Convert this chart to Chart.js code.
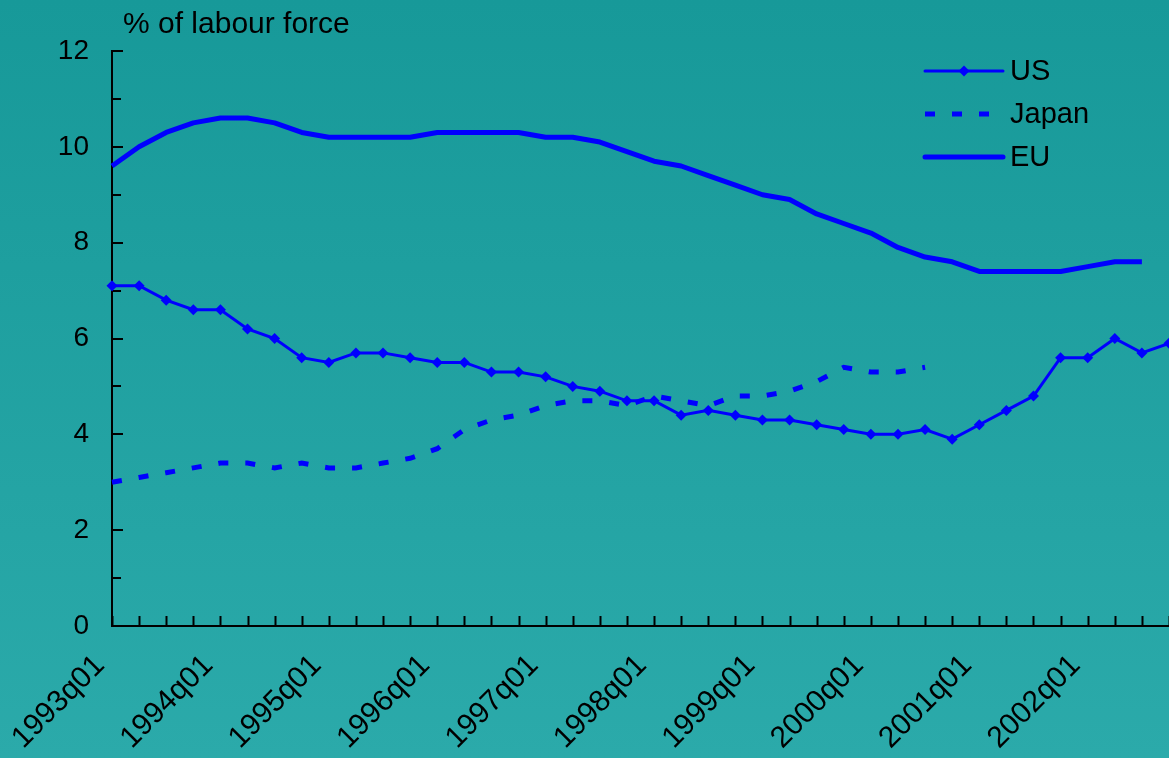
<!DOCTYPE html>
<html>
<head>
<meta charset="utf-8">
<script src="https://cdn.jsdelivr.net/npm/chart.js@4.4.1/dist/chart.umd.min.js"></script>
<style>
    html, body {
        margin: 0;
        padding: 0;
        width: 1169px;
        height: 758px;
        overflow: hidden;
        background: linear-gradient(to bottom, #179999 0%, #2baaaa 100%);
    }
    #wrap {
        position: relative;
        width: 1169px;
        height: 758px;
    }
</style>
</head>
<body>
<div id="wrap"><canvas id="myChart"></canvas></div>
<script>
// quarters on the category axis
const quarters = [
    '1993q01', '1993q02', '1993q03', '1993q04',
    '1994q01', '1994q02', '1994q03', '1994q04',
    '1995q01', '1995q02', '1995q03', '1995q04',
    '1996q01', '1996q02', '1996q03', '1996q04',
    '1997q01', '1997q02', '1997q03', '1997q04',
    '1998q01', '1998q02', '1998q03', '1998q04',
    '1999q01', '1999q02', '1999q03', '1999q04',
    '2000q01', '2000q02', '2000q03', '2000q04',
    '2001q01', '2001q02', '2001q03', '2001q04',
    '2002q01', '2002q02', '2002q03', '2002q04'
];

// only these quarters get a printed label
const tickLabels = ['1993q01', '1994q01', '1995q01', '1996q01', '1997q01',
    '1998q01', '1999q01', '2000q01', '2001q01', '2002q01'];

// unemployment, % of labour force
const usRate = [7.1, 7.1, 6.8, 6.6, 6.6, 6.2, 6.0, 5.6, 5.5, 5.7,
    5.7, 5.6, 5.5, 5.5, 5.3, 5.3, 5.2, 5.0, 4.9, 4.7,
    4.7, 4.4, 4.5, 4.4, 4.3, 4.3, 4.2, 4.1, 4.0, 4.0,
    4.1, 3.9, 4.2, 4.5, 4.8, 5.6, 5.6, 6.0, 5.7, 5.9];

const japanRate = [3.0, 3.1, 3.2, 3.3, 3.4, 3.4, 3.3, 3.4, 3.3, 3.3,
    3.4, 3.5, 3.7, 4.1, 4.3, 4.4, 4.6, 4.7, 4.7, 4.6,
    4.8, 4.7, 4.6, 4.8, 4.8, 4.9, 5.1, 5.4, 5.3, 5.3, 5.4];

const euRate = [9.6, 10.0, 10.3, 10.5, 10.6, 10.6, 10.5, 10.3, 10.2, 10.2,
    10.2, 10.2, 10.3, 10.3, 10.3, 10.3, 10.2, 10.2, 10.1, 9.9,
    9.7, 9.6, 9.4, 9.2, 9.0, 8.9, 8.6, 8.4, 8.2, 7.9,
    7.7, 7.6, 7.4, 7.4, 7.4, 7.4, 7.5, 7.6, 7.6];

const yMin = 0;
const yMax = 12;
const yStep = 2;

const FONT = '"Liberation Sans", Arial, sans-serif';
const BLUE = '#0000ff';

// ticks pointing into the plot, title and legend
const decorPlugin = {
    id: 'decor',
    beforeDatasetsDraw: function(chart) {
        const ctx = chart.ctx;
        const xs = chart.scales.x;
        const ys = chart.scales.y;
        const area = chart.chartArea;
        ctx.save();
        ctx.strokeStyle = '#000';
        ctx.lineWidth = 2;
        ctx.beginPath();
        quarters.forEach(function(q, i) {
            const px = Math.round(xs.getPixelForValue(i)) + 0.5;
            ctx.moveTo(px, area.bottom);
            ctx.lineTo(px, area.bottom - 10);
        });
        for (let v = yMin; v <= yMax; v++) {
            const py = Math.round(ys.getPixelForValue(v));
            ctx.moveTo(area.left, py);
            ctx.lineTo(area.left + (v % yStep === 0 ? 11 : 9), py);
        }
        ctx.stroke();
        ctx.restore();
    },
    afterDraw: function(chart) {
        const ctx = chart.ctx;
        ctx.save();
        ctx.fillStyle = '#000';
        ctx.textBaseline = 'middle';
        ctx.textAlign = 'left';
        ctx.font = '30px ' + FONT;
        ctx.fillText('% of labour force', 123, 25);

        // legend
        chart.data.datasets.forEach(function(ds, i) {
            const rowY = 71 + i * 43;
            ctx.strokeStyle = ds.borderColor;
            ctx.lineWidth = ds.borderWidth;
            ctx.setLineDash(ds.borderDash || []);
            ctx.lineCap = ds.borderDash ? 'butt' : 'round';
            ctx.beginPath();
            ctx.moveTo(925, rowY);
            ctx.lineTo(1003, rowY);
            ctx.stroke();
            ctx.setLineDash([]);
            if (ds.pointRadius > 0) {
                const r = ds.pointRadius;
                ctx.fillStyle = ds.pointBackgroundColor;
                ctx.beginPath();
                ctx.moveTo(964, rowY - r);
                ctx.lineTo(964 + r, rowY);
                ctx.lineTo(964, rowY + r);
                ctx.lineTo(964 - r, rowY);
                ctx.closePath();
                ctx.fill();
            }
            ctx.fillStyle = '#000';
            ctx.font = '29px ' + FONT;
            ctx.fillText(ds.label, 1010, rowY + 1);
        });
        ctx.restore();
    }
};

const ctx = document.getElementById('myChart').getContext('2d');
const myChart = new Chart(ctx, {
    type: 'line',
    data: {
        labels: quarters,
        datasets: [{
            label: 'US',
            data: usRate,
            borderColor: BLUE,
            backgroundColor: BLUE,
            borderWidth: 3,
            pointStyle: 'rectRot',
            pointRadius: 5.5,
            pointBorderWidth: 0,
            pointBackgroundColor: BLUE,
            tension: 0,
            clip: false
        }, {
            label: 'Japan',
            data: japanRate,
            borderColor: BLUE,
            backgroundColor: BLUE,
            borderWidth: 5,
            borderDash: [10, 17],
            pointRadius: 0,
            tension: 0,
            clip: false
        }, {
            label: 'EU',
            data: euRate,
            borderColor: BLUE,
            backgroundColor: BLUE,
            borderWidth: 5,
            borderJoinStyle: 'round',
            pointRadius: 0,
            tension: 0,
            clip: false
        }]
    },
    options: {
        responsive: true,
        maintainAspectRatio: false,
        animation: false,
        devicePixelRatio: 1,
        layout: {
            autoPadding: false,
            padding: { top: 51, right: 0, bottom: 0, left: 0 }
        },
        plugins: {
            legend: { display: false },
            tooltip: { enabled: false }
        },
        scales: {
            x: {
                type: 'category',
                offset: false,
                grid: { display: false, drawTicks: false },
                border: { display: true, color: '#000', width: 2 },
                ticks: {
                    autoSkip: false,
                    minRotation: 45,
                    maxRotation: 45,
                    padding: 22,
                    labelOffset: -12,
                    color: '#000',
                    font: { family: FONT, size: 30 },
                    callback: function(value, index) {
                        const q = quarters[index];
                        return tickLabels.includes(q) ? q : '';
                    }
                },
                afterFit: function(scale) {
                    scale.height = 132;
                    scale.paddingLeft = 0;
                    scale.paddingRight = 0;
                }
            },
            y: {
                min: yMin,
                max: yMax,
                grid: { display: false, drawTicks: false },
                border: { display: true, color: '#000', width: 2 },
                ticks: {
                    stepSize: yStep,
                    padding: 23,
                    color: '#000',
                    font: { family: FONT, size: 28 }
                },
                afterFit: function(scale) {
                    scale.width = 112;
                }
            }
        }
    },
    plugins: [decorPlugin]
});
</script>
</body>
</html>
